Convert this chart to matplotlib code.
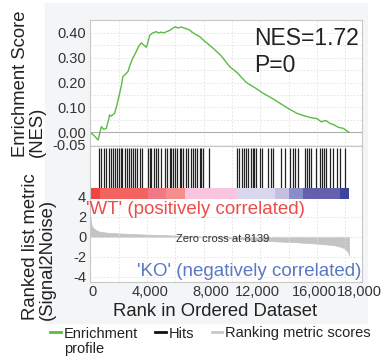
import matplotlib
matplotlib.use('Agg')
import matplotlib.pyplot as plt
from matplotlib.patches import Rectangle
from matplotlib.lines import Line2D
from matplotlib.ticker import MultipleLocator
import matplotlib.transforms as mtrans

plt.rcParams['font.family'] = ['Liberation Sans', 'DejaVu Sans']

# ---------------- data ----------------
es_rank = [0, 300, 540, 600, 780, 950, 1130, 1290, 1360, 1480, 1720, 1880, 2070, 2200,
           2300, 2450, 2660, 2800, 3010, 3200, 3400, 3600, 3800, 3960, 4100, 4190, 4400,
           4660, 4800, 5000, 5200, 5370, 5600, 5800, 5960, 6200, 6430, 6700, 7000, 7140,
           7400, 7720, 8000, 8380, 8670, 9200, 9840, 10360, 11020, 11600, 12200, 12800,
           13380, 14000, 14560, 15000, 15500, 15730, 16000, 16300, 16600, 16910, 17200,
           17500, 17850, 18000, 18250]
es_score = [0.000, -0.015, -0.031, -0.020, 0.023, 0.012, 0.016, 0.050, 0.070, 0.065, 0.077,
            0.110, 0.157, 0.190, 0.225, 0.232, 0.245, 0.270, 0.300, 0.320, 0.345, 0.360,
            0.350, 0.342, 0.370, 0.390, 0.400, 0.405, 0.400, 0.403, 0.400, 0.405, 0.410,
            0.418, 0.424, 0.420, 0.424, 0.418, 0.412, 0.405, 0.395, 0.385, 0.370, 0.352,
            0.338, 0.310, 0.264, 0.240, 0.200, 0.180, 0.157, 0.138, 0.117, 0.095, 0.077,
            0.068, 0.060, 0.057, 0.055, 0.042, 0.048, 0.036, 0.030, 0.020, 0.016, 0.010, 0.000]

hit_ranks = [590, 780, 960, 1130, 1290, 1480, 1600, 1720, 1880, 2020, 2140, 2260, 2420,
             2590, 2730, 2900, 3010, 3180, 3320, 3480, 3650, 4070, 4190, 4310, 4470, 4610,
             4780, 5020, 5250, 5440, 5600, 5720, 5840, 5960, 6150, 6310, 6430, 6540, 6780,
             6900, 7090, 7250, 7370, 7560, 7720, 7840, 7960, 8380,
             10360, 10500, 10670, 10830, 10980, 11140, 11310, 11450, 11560, 11680, 11970,
             12130, 12550, 12720, 12900, 13430, 13730, 14080, 14280, 14440, 14670, 15140,
             15260, 15450, 15550, 15920, 16200, 16320, 16490, 16630, 16910, 17140, 17380,
             17620, 17970]

metric_rank = [0, 30, 100, 210, 400, 660, 1200, 2070, 3500, 5370, 7000, 8139, 9500,
               11000, 12500, 14500, 16000, 17150, 17600, 17850, 18050, 18200, 18250]
metric_value = [2.0, 1.5, 1.1, 0.87, 0.65, 0.5, 0.4, 0.33, 0.24, 0.15, 0.06, 0.0, -0.12,
                -0.28, -0.42, -0.55, -0.68, -0.83, -0.98, -1.1, -1.3, -1.6, -1.9]

bar_edges = [0, 660, 4070, 5370, 6670, 10320, 13030, 14040, 14980, 17620, 18250]
bar_colors = ['#ee4540', '#f36360', '#f27787', '#f58f8d', '#f9c5de', '#d9d7ee',
              '#c6bfe0', '#8a8dcc', '#6560ad', '#3c44a0']

x_ticks = [0, 4000, 8000, 12000, 16000, 18000]
x_ticklabels = ['0', '4,000', '8,000', '12,000', '16,000', '18,000']
es_ticks = [-0.05, 0.0, 0.1, 0.2, 0.3, 0.4]
es_ticklabels = ['-0.05', '0.00', '0.10', '0.20', '0.30', '0.40']
metric_ticks = [4, 2, 0, -2, -4]
zero_cross = 8139
nes_value = 1.72
p_value = 0

# ---------------- layout ----------------
W, H = 389, 357
fig = plt.figure(figsize=(W / 100, H / 100), dpi=100)


def fx(px):
    return px / W


def fy(py):
    return 1 - py / H


def axrect(x0, y0, x1, y1):
    return [fx(x0), fy(y1), (x1 - x0) / W, (y1 - y0) / H]


fig.patches.append(Rectangle((fx(45), fy(323)), (367 - 45) / W, (323 - 3) / H,
                             transform=fig.transFigure, color='#f4f5f7', zorder=0))

SP = '#c8c8c8'
GRID = '#e2e2e2'
TXT = '#333333'
XMAX = 19170

ax_es = fig.add_axes(axrect(90.3, 20, 362, 146))
ax_hit = fig.add_axes(axrect(90.3, 146, 362, 188))
ax_m = fig.add_axes(axrect(90.3, 196.5, 362, 282))
ax_bar = fig.add_axes(axrect(90.3, 188, 362, 199))
ax_m.set_zorder(1)
ax_bar.set_zorder(3)
ax_es.set_zorder(2)
ax_hit.set_zorder(2)

for ax in (ax_es, ax_hit, ax_m, ax_bar):
    ax.set_xlim(0, XMAX)
    for s in ax.spines.values():
        s.set_color(SP)
        s.set_linewidth(0.8)
    ax.tick_params(length=0, labelsize=10.5, colors=TXT, pad=3)
    ax.xaxis.set_major_locator(MultipleLocator(2000))
    ax.set_xticklabels([])

# Enrichment score panel
ax_es.set_ylim(-0.055, 0.452)
ax_es.set_yticks(es_ticks)
ax_es.set_yticklabels(es_ticklabels)
ax_es.yaxis.set_minor_locator(MultipleLocator(0.05))
ax_es.tick_params(which='minor', length=0)
ax_es.grid(True, which='both', color=GRID, lw=0.6, ls=(0, (2, 2)))
ax_es.axhline(0, color='#b0b0b0', lw=0.8)
ax_es.plot(es_rank, es_score, color='#5cba45', lw=1.0)
ax_es.text(0.602, 0.802, f'NES={nes_value:.2f}', transform=ax_es.transAxes,
           fontsize=16.5, color='#222222', va='baseline', ha='left')
ax_es.text(0.602, 0.590, f'P={p_value}', transform=ax_es.transAxes,
           fontsize=16.5, color='#222222', va='baseline', ha='left')

# Hits panel
ax_hit.set_ylim(0, 1)
ax_hit.set_yticks([])
ax_hit.grid(True, axis='x', color=GRID, lw=0.6, ls=(0, (2, 2)))
ax_hit.vlines(hit_ranks, 0, 0.95, color='#222222', lw=0.9)
ax_hit.spines['bottom'].set_visible(False)

# Color bar panel
ax_bar.set_ylim(0, 1)
ax_bar.set_yticks([])
ax_bar.set_xticks([])
ax_bar.spines['top'].set_visible(False)
ax_bar.spines['bottom'].set_visible(False)
for i, c in enumerate(bar_colors):
    ax_bar.axvspan(bar_edges[i], bar_edges[i + 1], 0, 1, color=c, lw=0)

# Ranked list metric panel
ax_m.set_ylim(-4.5, 4.0)
ax_m.set_yticks(metric_ticks)
ax_m.set_yticklabels([str(t) for t in metric_ticks])
ax_m.grid(True, color=GRID, lw=0.6, ls=(0, (2, 2)))
ax_m.fill_between(metric_rank, metric_value, 0, color='#c4c4c4', lw=0.5)
ax_m.text(9330, -0.25, f'Zero cross at {zero_cross}', fontsize=8.0, color='#333333',
          ha='center', va='center')
ax_m.text(-300, 2.75, "'WT' (positively correlated)", fontsize=13.5, color='#ee4c4a',
          ha='left', va='center', clip_on=False, zorder=5)
ax_m.text(19150, -3.45, "'KO' (negatively correlated)", fontsize=13.5, color='#5a78c4',
          ha='right', va='center', clip_on=False, zorder=5)

# x tick labels (offset to avoid overlap, as in the reference)
label_dx = [2.5, 3, 7, -3, -3, 14]
for t, lab, dx in zip(x_ticks, x_ticklabels, label_dx):
    tr = mtrans.blended_transform_factory(ax_m.transData, ax_m.transAxes) + \
        mtrans.ScaledTranslation(dx / 100, -3 / 100, fig.dpi_scale_trans)
    ax_m.text(t, 0, lab, transform=tr, fontsize=10.5, color=TXT, ha='center', va='top',
              clip_on=False)

fig.text(fx(215), fy(312), 'Rank in Ordered Dataset', fontsize=13.3, color='#222222',
         ha='center', va='center')

fig.text(fx(29), fy(157), 'Enrichment Score\n(NES)', rotation=90, fontsize=13.3,
         color='#222222', ha='center', va='bottom', multialignment='left', linespacing=1.05)
fig.text(fx(39), fy(320), 'Ranked list metric\n(Signal2Noise)', rotation=90, fontsize=13.3,
         color='#222222', ha='center', va='bottom', multialignment='left', linespacing=1.05)

# Legend
leg_y = fy(332)
items = [(50, 61, '#5cba45', 'Enrichment'), (155, 166, '#111111', 'Hits'),
         (212, 222, '#c8c8c8', 'Ranking metric scores')]
for x0, x1, c, lab in items:
    fig.add_artist(Line2D([fx(x0), fx(x1)], [leg_y, leg_y], color=c, lw=2,
                          transform=fig.transFigure))
    fig.text(fx(x1 + 3), leg_y, lab, fontsize=10.5, color='#222222', ha='left',
             va='center_baseline', transform=fig.transFigure)
fig.text(fx(64), fy(348), 'profile', fontsize=10.5, color='#222222', ha='left',
         va='center_baseline', transform=fig.transFigure)

fig.savefig('out.png', dpi=100)
